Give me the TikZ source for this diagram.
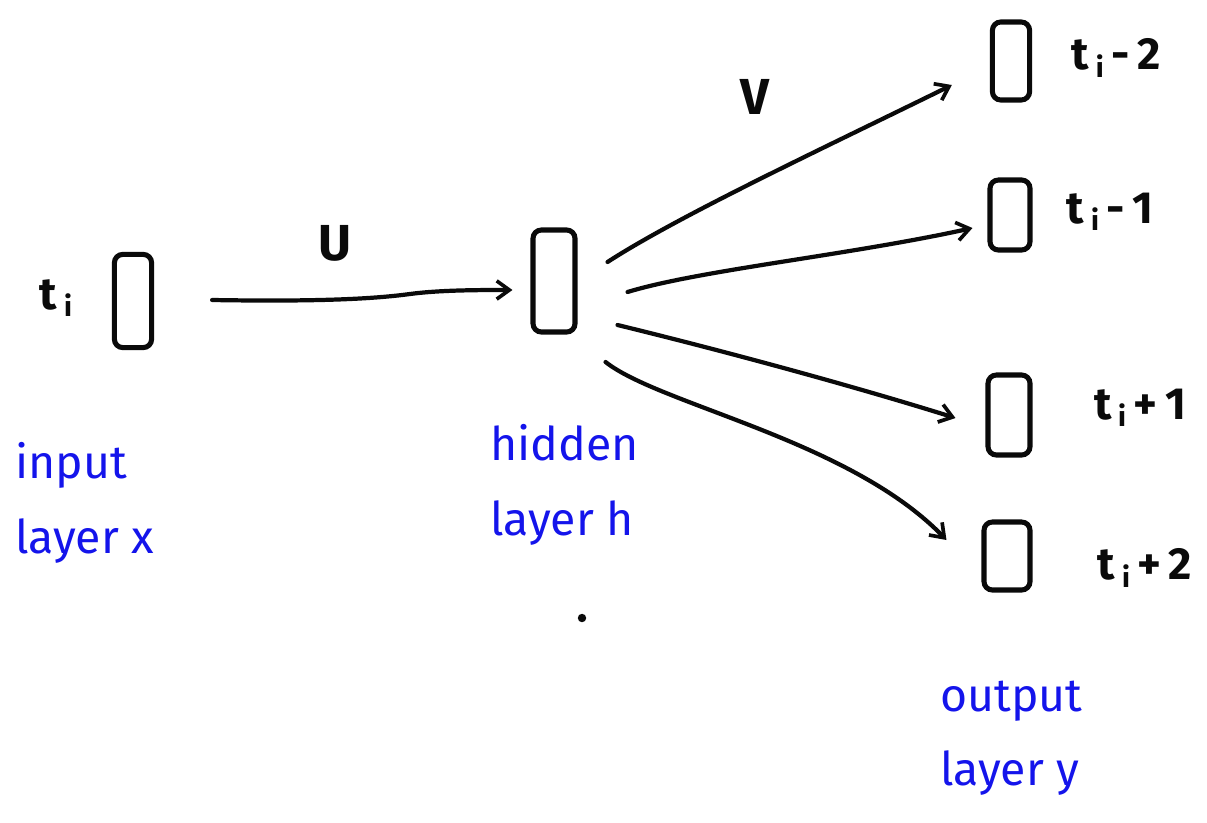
\documentclass[tikz,border=0pt]{standalone}
\usepackage{fontspec}
\setmainfont{Fira Sans}
\usetikzlibrary{arrows.meta,calc}
\definecolor{pen}{RGB}{10,10,10}
\definecolor{ink}{RGB}{20,20,235}
\newcommand\tsub{t\hspace{0.15em}\raisebox{-0.3ex}{\fontsize{20}{20}\selectfont i}}
\begin{document}
\begin{tikzpicture}[x=0.025cm,y=-0.025cm,
  cell/.style={draw=pen,line width=3.6pt,rounded corners=6pt,inner sep=0pt},
  arr/.style={draw=pen,line width=3pt,line cap=round,-{Straight Barb[length=9pt,width=13pt,line width=2.6pt]}},
  lab/.style={text=pen,font=\fontsize{32}{34}\selectfont\bfseries,inner sep=0pt},
  bl/.style={text=ink,font=\fontsize{33}{53}\selectfont,align=left,inner sep=0pt,anchor=west}]
\useasboundingbox (0,0) rectangle (1207,822);
% boxes
\node[cell,minimum width=0.93cm,minimum height=2.33cm] (inp) at (133,301) {};
\node[cell,minimum width=1.05cm,minimum height=2.55cm] (hid) at (554,281) {};
\node[cell,minimum width=0.93cm,minimum height=1.95cm] (o1) at (1011,61) {};
\node[cell,minimum width=1.0cm,minimum height=1.75cm] (o2) at (1010,215) {};
\node[cell,minimum width=1.05cm,minimum height=2.0cm] (o3) at (1009,415) {};
\node[cell,minimum width=1.15cm,minimum height=1.7cm] (o4) at (1007,556) {};
% labels
\node[lab] (ti) at (56,298) {\tsub};
\node[lab] (l1) at (1116,58) {\tsub\,-\,2};
\node[lab] (l2) at (1110,212) {\tsub\,-\,1};
\node[lab] (l3) at (1140,408) {\tsub\,+\,1};
\node[lab] (l4) at (1145,568) {\tsub\,+\,2};
\node[lab,font=\fontsize{36}{38}\selectfont\bfseries] (U) at (335,243) {U};
\node[lab,font=\fontsize{36}{38}\selectfont\bfseries] (V) at (755,97) {V};
\node[bl] (inl) at (15,503) {input\\layer x};
\node[bl] (hidl) at (490,485) {hidden\\layer h};
\node[bl] (outl) at (940,738) {output\\layer y};
\fill[pen] (582,618) circle (3pt);
% connectors
\draw[arr] ($(inp.east)+(58,-1)$) .. controls (330,302) and (380,298) .. (410,294) .. controls (440,290) and (480,290) .. ($(hid.west)+(-18,9)$);
\draw[arr] ($(hid.east)+(30,-19)$) .. controls (680,215) and (830,145) .. ($(o1.west)+(-38,24)$);
\draw[arr] ($(hid.east)+(50,11)$) .. controls (700,270) and (850,255) .. ($(o2.west)+(-15,13)$);
\draw[arr] ($(hid.east)+(40,44)$) .. controls (720,350) and (850,385) .. ($(o3.west)+(-30,3)$);
\draw[arr] ($(hid.east)+(28,81)$) .. controls (660,405) and (850,440) .. ($(o4.west)+(-35,-16)$);
\end{tikzpicture}
\end{document}
